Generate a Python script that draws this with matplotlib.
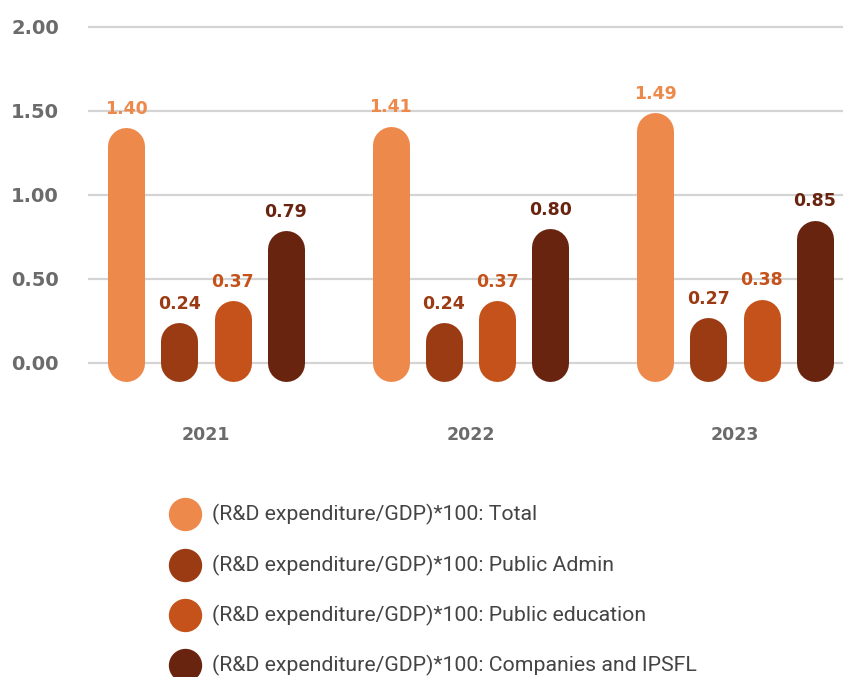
import numpy as np
import matplotlib
matplotlib.use("Agg")
import matplotlib.pyplot as plt
from matplotlib.lines import Line2D

# R&D expenditure as a share of GDP, by sector
years = ["2021", "2022", "2023"]
series_names = [
    "(R&D expenditure/GDP)*100: Total",
    "(R&D expenditure/GDP)*100: Public Admin",
    "(R&D expenditure/GDP)*100: Public education",
    "(R&D expenditure/GDP)*100: Companies and IPSFL",
]
total = [1.40, 1.41, 1.49]
public_admin = [0.24, 0.24, 0.27]
public_education = [0.37, 0.37, 0.38]
companies = [0.79, 0.80, 0.85]
series_values = [total, public_admin, public_education, companies]
colors = ["#EE894C", "#9A3B14", "#C4521A", "#692410"]

y_ticks = [0.0, 0.5, 1.0, 1.5, 2.0]

DPI = 100
W, H = 843, 677

fig = plt.figure(figsize=(W / DPI, H / DPI), dpi=DPI)
# axes box in pixels: left 88, right 843, top 20, bottom 395
ax_left, ax_right, ax_top, ax_bottom = 88, 843, 20, 395
ax = fig.add_axes([ax_left / W, 1 - ax_bottom / H,
                   (ax_right - ax_left) / W, (ax_bottom - ax_top) / H])

px_per_unit = 168.0
zero_px = 363
ymax = (zero_px - ax_top) / px_per_unit
ymin = -(ax_bottom - zero_px) / px_per_unit
ax.set_ylim(ymin, ymax)

group_px = 264.5
x_left = -(206 - ax_left) / group_px
x_right = x_left + (ax_right - ax_left) / group_px
ax.set_xlim(x_left, x_right)

bar_px = 37.0
bar_step = 53.3 / group_px
r_data = (bar_px / 2) / px_per_unit
lw_pt = bar_px * 72 / DPI

x = np.arange(len(years))
for k, (vals, col) in enumerate(zip(series_values, colors)):
    offset = (k - 1.5) * bar_step
    for xi, v in zip(x, vals):
        # pill-shaped bar: round caps, top cap ending at the value
        ax.plot([xi + offset, xi + offset], [0, v - r_data], color=col,
                lw=lw_pt, solid_capstyle="round", zorder=3)
        ax.annotate(f"{v:.2f}", (xi + offset, v), xytext=(0, 7),
                    textcoords="offset points", ha="center", va="bottom",
                    fontsize=12.5, fontweight="bold", family="DejaVu Sans",
                    color=col, zorder=4)

for t in y_ticks:
    ax.axhline(t, color="#d4d4d4", lw=1.6, zorder=1)

ax.set_yticks(y_ticks)
ax.set_yticklabels([f"{t:.2f}" for t in y_ticks])
ax.set_xticks(x)
ax.set_xticklabels(years)
ax.tick_params(axis="y", length=0, pad=21, labelsize=14, labelcolor="#6b6b6b")
ax.tick_params(axis="x", length=0, pad=22, labelsize=12.5, labelcolor="#6b6b6b")
for lab in ax.get_xticklabels() + ax.get_yticklabels():
    lab.set_family("DejaVu Sans")
    lab.set_fontweight("bold")
for s in ax.spines.values():
    s.set_visible(False)

# legend rows drawn below the plot
legend_y = [514, 565, 615, 665]
for name, col, ly in zip(series_names, colors, legend_y):
    fig.add_artist(Line2D([185 / W], [1 - ly / H], marker="o", ms=23,
                          color=col, mec=col, transform=fig.transFigure))
    fig.text(212 / W, 1 - ly / H, name, ha="left", va="center",
             fontsize=15.3, family="Roboto", color="#444444")

fig.savefig("out.png", dpi=DPI)
